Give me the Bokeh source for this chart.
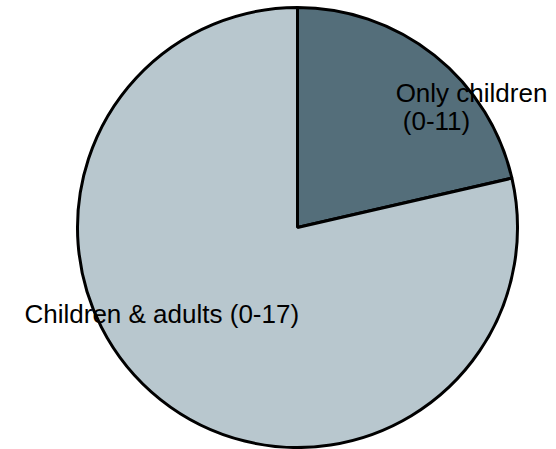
import math
from bokeh.plotting import figure
from bokeh.models import Range1d, ColumnDataSource
from bokeh.embed import file_html
from bokeh.resources import INLINE
from bokeh.core.properties import value

categories = ["Only children", "Children & adults"]
shares = [21.4, 78.6]
colors = ["#546e7a", "#b8c7ce"]
label_lines = [["Only children", "(0-11)"], ["Children & adults (0-17)"]]

W, H = 556, 449
p = figure(width=W, height=H, output_backend="svg", toolbar_location=None,
           x_range=Range1d(0, W), y_range=Range1d(0, H), min_border=0)
p.axis.visible = False
p.grid.visible = False
p.outline_line_color = None
p.background_fill_color = "white"
p.border_fill_color = "white"

cx, cy, r = 297, H - 227, 220
total = sum(shares)
# clockwise from 12 o'clock
starts, ends = [], []
cur = math.pi / 2
for s in shares:
    ang = s / total * 2 * math.pi
    ends.append(cur)
    starts.append(cur - ang)
    cur -= ang

src = ColumnDataSource(dict(start=starts, end=ends, color=colors, cat=categories))
p.wedge(x=cx, y=cy, radius=r, start_angle="start", end_angle="end",
        fill_color="color", line_color="black", line_width=3, source=src)

# labels
tx = [471, 436, 24]
ty = [H - 92, H - 120, H - 313]
tt = [label_lines[0][0], label_lines[0][1], label_lines[1][0]]
p.text(x=tx[:2], y=ty[:2], text=tt[:2], text_font=value("Liberation Sans"),
       text_font_size="26px", text_align="center", text_baseline="alphabetic",
       text_color="black")
p.text(x=tx[2:], y=ty[2:], text=tt[2:], text_font=value("Liberation Sans"),
       text_font_size="26px", text_align="left", text_baseline="alphabetic",
       text_color="black")

open("out.html", "w").write(file_html(p, INLINE))
